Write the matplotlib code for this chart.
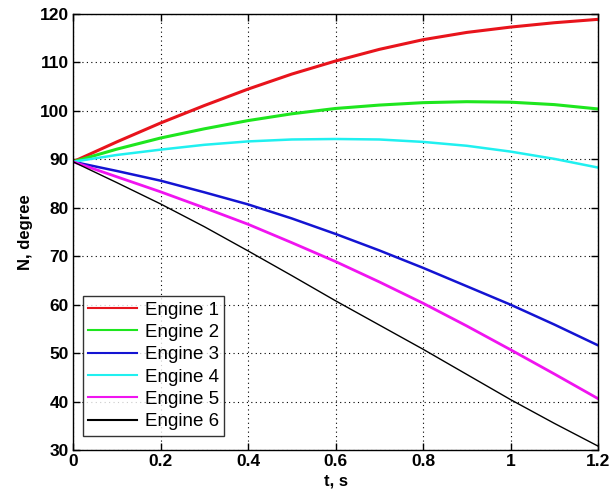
import matplotlib
matplotlib.use("Agg")
import matplotlib.pyplot as plt

t = [0.0, 0.1, 0.2, 0.3, 0.4, 0.5, 0.6, 0.7, 0.8, 0.9, 1.0, 1.1, 1.2]
engine1 = [89.5, 93.6, 97.5, 101.1, 104.5, 107.6, 110.3, 112.7, 114.7, 116.2, 117.3, 118.2, 118.9]
engine2 = [89.5, 92.1, 94.4, 96.3, 98.0, 99.4, 100.5, 101.2, 101.7, 101.9, 101.8, 101.3, 100.4]
engine3 = [89.5, 87.6, 85.6, 83.2, 80.7, 77.8, 74.6, 71.2, 67.6, 63.8, 60.0, 55.9, 51.6]
engine4 = [89.5, 90.9, 92.0, 93.0, 93.7, 94.1, 94.2, 94.1, 93.6, 92.8, 91.6, 90.1, 88.3]
engine5 = [89.5, 86.4, 83.3, 80.0, 76.6, 72.8, 68.9, 64.7, 60.3, 55.6, 50.7, 45.7, 40.6]
engine6 = [89.5, 85.2, 80.8, 76.1, 71.1, 66.0, 60.8, 55.8, 50.8, 45.6, 40.4, 35.5, 30.8]
labels = ["Engine 1", "Engine 2", "Engine 3", "Engine 4", "Engine 5", "Engine 6"]
colors = ["#e8141c", "#1ee61e", "#1414d2", "#20f0f0", "#f014f0", "#000000"]
widths = [2.2, 2.2, 1.8, 1.8, 2.0, 1.0]
xticks = [0, 0.2, 0.4, 0.6, 0.8, 1, 1.2]
xticklabels = ["0", "0.2", "0.4", "0.6", "0.8", "1", "1.2"]
yticks = [30, 40, 50, 60, 70, 80, 90, 100, 110, 120]

plt.rcParams['font.family'] = ['Liberation Sans', 'DejaVu Sans']

fig = plt.figure(figsize=(6.1, 4.97), dpi=100)
ax = fig.add_axes([0.1197, 0.0946, 0.8607, 0.8772])

series = [engine1, engine2, engine3, engine4, engine5, engine6]
for ys, lab, c, w in zip(series, labels, colors, widths):
    ax.plot(t, ys, color=c, lw=w, label=lab)

ax.set_xlim(0, 1.2)
ax.set_ylim(30, 120)
ax.set_xticks(xticks)
ax.set_xticklabels(xticklabels)
ax.set_yticks(yticks)
ax.grid(True, color='black', linestyle=(0, (1, 3)), linewidth=0.8)
ax.tick_params(direction='in', top=True, right=True, length=5, width=1,
               labelsize=12.5, pad=3)
for lbl in ax.get_xticklabels() + ax.get_yticklabels():
    lbl.set_fontweight('bold')
for s in ax.spines.values():
    s.set_linewidth(1.0)

ax.set_xlabel("t, s", fontsize=12, fontweight='bold', labelpad=3)
ax.set_ylabel("N, degree", fontsize=12, fontweight='bold', labelpad=5)

leg = ax.legend(loc='lower left', bbox_to_anchor=(0.0185, 0.032), fontsize=13.5,
                handlelength=2.6, frameon=True, fancybox=False, edgecolor='black',
                borderpad=0.3, labelspacing=0.28, handletextpad=0.4,
                borderaxespad=0)
leg.get_frame().set_linewidth(1.0)
for line in leg.get_lines():
    line.set_linewidth(1.5)

fig.savefig("out.png", dpi=100)
